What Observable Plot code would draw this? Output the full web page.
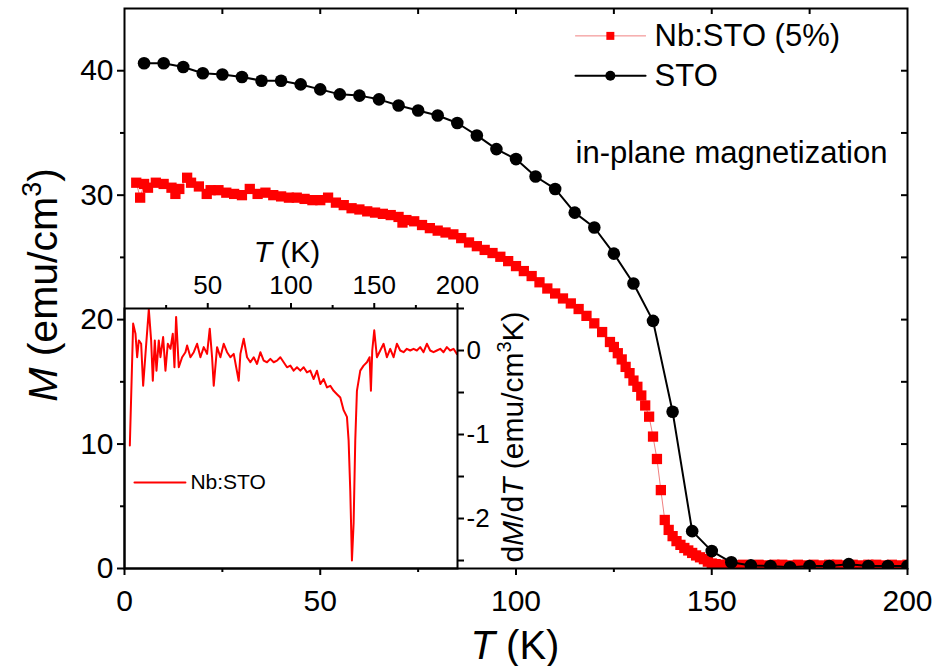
<!DOCTYPE html>
<html><head><meta charset="utf-8">
<script src="https://cdn.jsdelivr.net/npm/d3@7"></script>
<script src="https://cdn.jsdelivr.net/npm/@observablehq/plot@0.6"></script>
<style>
body{margin:0;background:#fff;}
#wrap{position:relative;width:937px;height:666px;background:#fff;}
#wrap svg{position:absolute;left:0;top:0;}
</style></head><body><div id="wrap"></div>
<script>
// ---- data: STO (black circles) ----
const stoT = [5,10,15,20,25,30,35,40,45,50,55,60,65,70,75,80,85,90,95,100,105,110,115,120,125,130,135,140,145,150,155,160,165,170,175,180,185,190,195,200];
const stoM = [40.6,40.6,40.3,39.8,39.7,39.5,39.2,39.2,38.9,38.5,38.1,38.0,37.7,37.2,36.8,36.4,35.8,34.8,33.7,32.9,31.5,30.5,28.6,27.4,25.3,22.9,19.9,12.6,3.0,1.4,0.5,0.25,0.2,0.1,0.2,0.2,0.35,0.2,0.2,0.2];
// ---- data: Nb:STO (5%) (red squares) ----
const nbT = [3,4,5,6,8,10,12,13,14,16,17,19,21,22,24,26,28,30,32,34,36,38,40,42,44,46,48,50,52,54,56,58,60,62,64,66,68,70,71,72,74,76,78,80,82,84,86,88,90,92,94,96,98,100,102,104,106,108,110,112,114,116,118,120,122,124,125,126,127,128,129,130,131,132,133,134,135,136,137,138,139,140,141,142,143,144,145,146,147,148,149,150,151,152,154,156,158,160,162,164,166,168,170,172,174,176,178,180,182,184,186,188,190,192,194,196,198,200];
const nbM = [31.0,29.8,30.9,30.6,31.0,30.9,30.6,30.1,30.5,31.4,31.0,30.7,30.1,30.4,30.4,30.2,30.1,30.0,30.5,30.1,30.2,30.0,29.9,29.8,29.8,29.7,29.6,29.6,29.8,29.4,29.2,28.95,28.85,28.7,28.6,28.5,28.4,28.25,27.8,28.0,27.9,27.6,27.35,27.15,27.0,26.85,26.55,26.2,25.9,25.6,25.35,25.05,24.7,24.3,23.9,23.5,23.0,22.5,22.1,21.7,21.3,20.85,20.3,19.7,19.0,18.2,17.8,17.3,16.8,16.2,15.7,15.1,14.6,13.9,13.1,12.2,10.6,8.8,6.3,3.9,3.1,2.6,2.2,1.9,1.65,1.45,1.25,1.05,0.9,0.75,0.55,0.4,0.35,0.3,0.3,0.25,0.3,0.25,0.3,0.25,0.3,0.3,0.25,0.3,0.25,0.3,0.25,0.3,0.3,0.25,0.3,0.25,0.3,0.3,0.25,0.3,0.25,0.3];
// ---- data: inset dM/dT of Nb:STO ----
const insetT = [3.2,5.2,6.6,7.6,8.6,10.0,11.2,12.6,14.6,16.0,17.0,18.2,19.2,20.6,21.6,23.2,24.6,26.0,27.6,29.0,30.0,31.0,32.6,34.6,36.6,37.6,39.6,41.6,43.6,45.6,47.6,49.6,51.2,52.6,53.6,55.6,57.6,59.6,61.6,63.6,65.6,68.6,69.6,71.6,73.6,75.6,77.6,79.6,81.6,83.6,85.6,87.6,89.6,91.6,93.6,95.6,97.6,99.6,101.6,103.6,105.6,107.6,109.6,111.6,113.6,115.6,117.6,119.6,121.6,123.6,125.6,127.6,129.6,131.6,133.6,134.6,135.6,136.6,137.6,138.6,139.6,141.6,143.6,145.6,147.2,148.0,148.8,150.0,151.6,153.6,155.6,157.6,159.6,161.6,163.6,165.6,167.6,169.6,171.6,173.6,175.6,177.6,179.6,181.6,183.6,185.6,187.6,189.6,191.6,193.6,195.6,197.6,199.6];
const insetD = [-1.13,0.32,0.20,-0.08,0.12,0.08,-0.42,-0.04,0.49,0.12,-0.36,0.12,-0.24,0.12,-0.08,0.16,-0.24,0.08,0.02,0.20,-0.20,0.40,-0.20,-0.08,-0.02,0.06,-0.08,-0.02,0.08,-0.08,0.04,-0.04,0.26,-0.08,-0.42,0.04,-0.08,0.08,-0.02,-0.08,-0.04,-0.36,-0.04,0.14,-0.08,-0.14,-0.08,-0.16,-0.02,-0.12,-0.14,-0.10,-0.14,-0.12,-0.08,-0.14,-0.20,-0.18,-0.24,-0.20,-0.24,-0.20,-0.26,-0.24,-0.34,-0.24,-0.40,-0.34,-0.44,-0.42,-0.48,-0.52,-0.56,-0.71,-0.79,-1.07,-1.67,-2.50,-2.06,-1.07,-0.48,-0.24,-0.18,-0.14,-0.08,-0.48,0.00,0.24,-0.08,0.00,0.08,-0.08,0.02,-0.08,0.08,0.00,-0.02,0.02,0.00,0.02,0.00,0.04,-0.02,0.08,0.00,-0.02,0.00,0.02,-0.02,0.04,0.00,0.02,-0.04];
// ---- ticks ----
const xMajor = [0,50,100,150,200];
const xMinor = [25,75,125,175];
const xTop = [25,50,75,100,125,150,175];
const yMajor = [0,10,20,30,40];
const yMinor = [5,15,25,35];
const yRight = [5,10,15,20,25,30,35,40];
const inXMajor = [50,100,150,200];
const inXMinor = [25,75,125,175];
const inYMajor = [0,-1,-2];
const inYMinor = [0.5,-0.5,-1.5,-2.5];
const legendLabels = ["Nb:STO (5%)","STO"];

const FONT = "'Liberation Sans', Arial, sans-serif";
const W = 937, H = 666;
const mL = 124, mR = 30, mT = 8, mB = 98;
const fW = W - mL - mR, fH = H - mT - mB;
const RED = "#f00";
const noText = () => "";

const sto = stoT.map((t,i)=>({T:t, M:stoM[i]}));
const nb = nbT.map((t,i)=>({T:t, M:nbM[i]}));
const ins = insetT.map((t,i)=>({T:t, D:insetD[i]}));

const main = Plot.plot({
  width: W, height: H, marginLeft: mL, marginRight: mR, marginTop: mT, marginBottom: mB,
  style: {fontFamily: FONT, background: "#fff", color: "#000"},
  x: {domain: [0,200]}, y: {domain: [0,45]},
  marks: [
    Plot.line(nb, {x:"T", y:"M", stroke:"#f08080", strokeWidth:1, clip:"frame"}),
    Plot.dot(nb, {x:"T", y:"M", symbol:"square", r:5.8, fill:RED, clip:"frame"}),
    Plot.line(sto, {x:"T", y:"M", stroke:"#000", strokeWidth:2, clip:"frame"}),
    Plot.dot(sto, {x:"T", y:"M", r:6.3, fill:"#000", clip:"frame"}),
    // legend
    Plot.line([{T:115.2,M:42.8},{T:133.1,M:42.8}], {x:"T", y:"M", stroke:"#f08080", strokeWidth:1}),
    Plot.dot([{T:124.1,M:42.8}], {x:"T", y:"M", symbol:"square", r:4.5, fill:RED}),
    Plot.line([{T:115.2,M:39.6},{T:133.1,M:39.6}], {x:"T", y:"M", stroke:"#000", strokeWidth:2}),
    Plot.dot([{T:124.1,M:39.6}], {x:"T", y:"M", r:5, fill:"#000"}),
    Plot.text([legendLabels[0]], {x:()=>135.4, y:()=>42.8, text:d=>d, textAnchor:"start", fontSize:31, fill:"#000"}),
    Plot.text([legendLabels[1]], {x:()=>135.4, y:()=>39.6, text:d=>d, textAnchor:"start", fontSize:31, fill:"#000"}),
    Plot.text(["in-plane magnetization"], {x:()=>115.2, y:()=>33.4, text:d=>d, textAnchor:"start", fontSize:31, fill:"#000"}),
    // axes
    Plot.axisY(yMajor, {tickSize:7, tickPadding:4, fontSize:30, label:null, strokeWidth:2}),
    Plot.axisY(yMinor, {tickSize:4, tickFormat:noText, label:null, strokeWidth:2}),
    Plot.axisX(xMajor, {tickSize:7, tickPadding:14, fontSize:30, label:null, strokeWidth:2}),
    Plot.axisX(xMinor, {tickSize:4, tickFormat:noText, label:null, strokeWidth:2}),
    Plot.ruleX(xTop, {x:d=>d, insetBottom: fH-6, strokeWidth:2}),
    Plot.ruleY(yRight, {y:d=>d, insetLeft: fW-6, strokeWidth:2}),
    Plot.frame({strokeWidth:2})
  ]
});

const iL = 124, iR = 480, iT = 308, iB = 98;
const inset = Plot.plot({
  width: W, height: H, marginLeft: iL, marginRight: iR, marginTop: iT, marginBottom: iB,
  style: {fontFamily: FONT, background: "transparent", color: "#000"},
  x: {domain: [0,200]}, y: {domain: [-2.595,0.5]},
  marks: [
    Plot.line(ins, {x:"T", y:"D", stroke:RED, strokeWidth:2, clip:"frame"}),
    Plot.line([{T:6,D:-1.57},{T:36.6,D:-1.57}], {x:"T", y:"D", stroke:RED, strokeWidth:2}),
    Plot.text(["Nb:STO"], {x:()=>39.6, y:()=>-1.57, text:d=>d, textAnchor:"start", fontSize:21, fill:"#000"}),
    Plot.axisX(inXMajor, {anchor:"top", tickSize:6, tickPadding:9, fontSize:26, label:null, strokeWidth:2}),
    Plot.axisX(inXMinor, {anchor:"top", tickSize:4, tickFormat:noText, label:null, strokeWidth:2}),
    Plot.axisY(inYMajor, {anchor:"right", tickSize:6, tickPadding:3, fontSize:26, label:null, strokeWidth:2, tickFormat:d=>String(d)}),
    Plot.axisY(inYMinor, {anchor:"right", tickSize:6, tickFormat:noText, label:null, strokeWidth:2}),
    Plot.frame({strokeWidth:2})
  ]
});

const wrap = document.getElementById("wrap");
wrap.appendChild(main);
wrap.appendChild(inset);

// axis titles with italics / superscripts
const ms = d3.select(main);
const xt = ms.append("text").attr("x", 515).attr("y", 659).attr("text-anchor","middle")
  .attr("font-size", 40).attr("font-family", FONT).attr("fill","#000");
xt.append("tspan").attr("font-style","italic").text("T");
xt.append("tspan").text(" (K)");

const yt = ms.append("text").attr("transform","translate(57,285) rotate(-90)").attr("text-anchor","middle")
  .attr("font-size", 41).attr("font-family", FONT).attr("fill","#000");
yt.append("tspan").attr("font-style","italic").text("M");
yt.append("tspan").text(" (emu/cm");
yt.append("tspan").attr("font-size",27).attr("dy",-16).text("3");
yt.append("tspan").attr("dy",16).text(")");

const is = d3.select(inset);
const it = is.append("text").attr("x", 287).attr("y", 262).attr("text-anchor","middle")
  .attr("font-size", 30).attr("font-family", FONT).attr("fill","#000");
it.append("tspan").attr("font-style","italic").text("T");
it.append("tspan").text(" (K)");

const rt = is.append("text").attr("transform","translate(523,437) rotate(-90)").attr("text-anchor","middle")
  .attr("font-size", 30).attr("font-family", FONT).attr("fill","#000");
rt.append("tspan").text("d");
rt.append("tspan").attr("font-style","italic").text("M");
rt.append("tspan").text("/d");
rt.append("tspan").attr("font-style","italic").text("T");
rt.append("tspan").text(" (emu/cm");
rt.append("tspan").attr("font-size",20).attr("dy",-12).text("3");
rt.append("tspan").attr("dy",12).text("K)");
</script></body></html>
